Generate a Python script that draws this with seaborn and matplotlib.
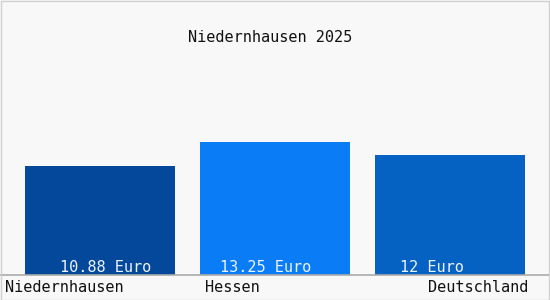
import matplotlib
matplotlib.use("Agg")
import matplotlib.pyplot as plt
import matplotlib.transforms as mtransforms
import seaborn as sns
import pandas as pd

categories = ["Niedernhausen", "Hessen", "Deutschland"]
values = [10.88, 13.25, 12.0]
value_labels = ["10.88 Euro", "13.25 Euro", "12 Euro"]
colors = ["#03489a", "#0a7cf6", "#0562c2"]
title = "Niedernhausen 2025"

sns.set_theme(style="white")
plt.rcParams["font.family"] = ["DejaVu Sans Mono", "DejaVu Sans"]

W, H = 550, 300
fig = plt.figure(figsize=(W / 100, H / 100), dpi=100, facecolor="#f8f8f8")
# axes spans full width, bottom at y=275 px, top at y=60 px
ax = fig.add_axes([0, 25 / H, 1, 215 / H])
ax.set_facecolor("#f8f8f8")

df = pd.DataFrame({"cat": categories, "val": values})
sns.barplot(data=df, x="cat", y="val", hue="cat", palette=colors, legend=False,
            width=150 / 175, saturation=1, linewidth=0, ax=ax)
ax.set_xlim(-100 / 175, 450 / 175)
ax.set_ylim(0, 13.25 * 215 / 133)
ax.set_xlabel("")
ax.set_ylabel("")
ax.set_xticks([])
ax.set_yticks([])
for s in ["top", "left", "right"]:
    ax.spines[s].set_visible(False)
ax.spines["bottom"].set_color("#aaaaaa")
ax.spines["bottom"].set_linewidth(1.2)

fs = 11
# value labels inside bars
label_offsets = [-40, -55, -50]  # px from bar center
for i, (lab, off) in enumerate(zip(value_labels, label_offsets)):
    tr = mtransforms.offset_copy(ax.transData, fig=fig, x=off * 0.72, y=7 * 0.72, units="points")
    ax.text(i, 0, lab, transform=tr, ha="left", va="center", color="#eef4ff", fontsize=fs)

# category labels under the axis
cat_pos = [(-95, "left"), (-70, "left"), (78, "right")]
for i, (cat, (off, ha)) in enumerate(zip(categories, cat_pos)):
    tr = mtransforms.offset_copy(ax.transData, fig=fig, x=off * 0.72, y=-13 * 0.72, units="points")
    ax.text(i, 0, cat, transform=tr, ha=ha, va="center", color="#111111", fontsize=fs)

fig.text(270 / W, 1 - 38 / H, title, ha="center", va="center", fontsize=fs, color="#111111")

# light border around the figure
fig.patches.append(plt.Rectangle((0.5 / W, 0.5 / H), 1 - 1.5 / W, 1 - 1.5 / H, transform=fig.transFigure,
                                 fill=False, edgecolor="#d0d0d0", linewidth=1))

fig.savefig("out.png", dpi=100, facecolor=fig.get_facecolor())
